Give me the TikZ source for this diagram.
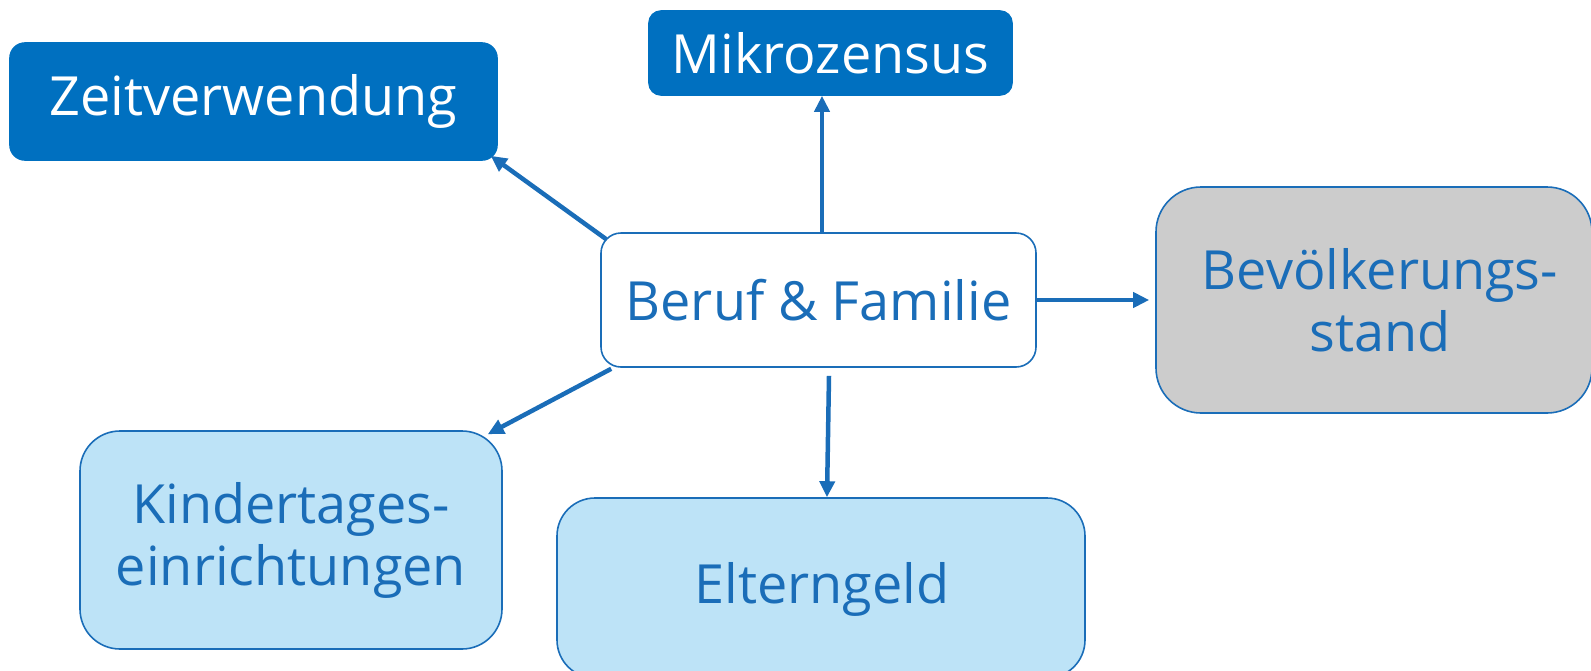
\documentclass[tikz,border=0pt]{standalone}
\usepackage{fontspec}
\setmainfont{Open Sans}
\usetikzlibrary{arrows.meta}
\definecolor{dblue}{HTML}{0070C0}
\definecolor{tblue}{HTML}{1A6DB8}
\definecolor{lblue}{HTML}{BDE3F7}
\definecolor{lgrey}{HTML}{CCCCCC}
\tikzset{
  box/.style={draw=tblue, line width=1.6pt, inner sep=0pt, align=center,
    font=\fontsize{54}{62}\selectfont},
  darkbox/.style={box, fill=dblue, draw=dblue, text=white},
  conn/.style={draw=tblue, line width=4.5pt, -{Triangle[length=16pt,width=15pt]}}
}
\begin{document}
\begin{tikzpicture}[x=1pt,y=-1pt]
\useasboundingbox (0,0) rectangle (1591,670);
\node[darkbox, rounded corners=15pt, minimum width=487pt, minimum height=117pt] (zeit) at (253.5,101.5) {Zeitverwendung};
\node[darkbox, rounded corners=12pt, minimum width=363pt, minimum height=84pt] (mikro) at (830.5,53) {Mikrozensus};
\node[box, fill=white, text=tblue, rounded corners=20pt, minimum width=435pt, minimum height=134pt] (beruf) at (818.5,300) {Beruf \& Familie};
\node[box, fill=lgrey, text=tblue, rounded corners=45pt, minimum width=436pt, minimum height=226pt] (bev) at (1374,300) {};
\node[text=tblue, font=\fontsize{54}{62}\selectfont, inner sep=0pt, align=center] (bevt) at (1380,300) {Bevölkerungs-\\stand};
\node[box, fill=lblue, text=tblue, rounded corners=40pt, minimum width=422pt, minimum height=218pt] (kita) at (291,540) {Kindertages-\\einrichtungen};
\node[box, fill=lblue, text=tblue, rounded corners=38pt, minimum width=528pt, minimum height=180pt] (elt) at (821,588) {};
\node[text=tblue, font=\fontsize{54}{62}\selectfont, inner sep=0pt] (eltt) at (822,589) {Elterngeld};
\draw[conn] ([shift={(6,7)}]beruf.north west) -- ([shift={(-7,-5)}]zeit.south east);
\draw[conn] ([xshift=3.5pt]beruf.north) -- ([xshift=-8.5pt]mikro.south);
\draw[conn, shorten >=6pt] (beruf.east) -- (bev.west);
\draw[conn] ([shift={(11,1)}]beruf.south west) -- ([shift={(-15,4)}]kita.north east);
\draw[conn] ([shift={(10.5,8)}]beruf.south) -- ([xshift=6pt]elt.north);
\end{tikzpicture}
\end{document}
